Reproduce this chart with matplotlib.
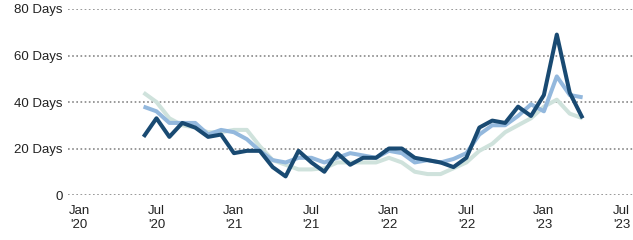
import matplotlib
matplotlib.use("Agg")
import matplotlib.pyplot as plt

plt.rcParams['font.family'] = ['Liberation Sans', 'DejaVu Sans']

# months since Jan 2020 (Jun 2020 .. Apr 2023)
months = list(range(5, 40))
dark = [25, 33, 25, 31, 29, 25, 26, 18, 19, 19, 12, 8, 19, 14,
        10, 18, 13, 16, 16, 20, 20, 16, 15, 14, 12, 16, 29, 32, 31, 38, 34, 43, 69, 44, 33]
medium = [38, 36, 31, 31, 31, 26, 28, 27, 24, 19, 15, 14, 16, 16,
          14, 16, 18, 17, 16, 19, 18, 14, 15, 14, 15.5, 18, 26, 30, 30, 34, 39, 36, 51, 43, 42]
pale = [44, 40, 33, 30, 29, 27, 27, 28, 28, 21, 15, 13, 11, 11,
        11.5, 14, 14, 14, 14, 16, 14, 10, 9, 9, 11.5, 14, 19, 22, 27, 30, 33, 38, 41, 35, 33]

xticks = [0, 6, 12, 18, 24, 30, 36, 42]
xlabels = ["Jan\n'20", "Jul\n'20", "Jan\n'21", "Jul\n'21", "Jan\n'22", "Jul\n'22", "Jan\n'23", "Jul\n'23"]
yticks = [0, 20, 40, 60, 80]
ylabels = ["0", "20 Days", "40 Days", "60 Days", "80 Days"]

fig = plt.figure(figsize=(6.33, 2.4), dpi=100)
ax = fig.add_axes([68/633, 1-195/240, 1-68/633, (195-9)/240])

ax.plot(months, pale, color='#cfe2dc', lw=2.9, solid_capstyle='butt', zorder=3)
ax.plot(months, medium, color='#93b8dd', lw=2.9, solid_capstyle='butt', zorder=4)
ax.plot(months, dark, color='#194a72', lw=2.9, solid_capstyle='butt', zorder=5)

ax.set_xlim(-0.85, 42.9)
ax.set_ylim(0, 80)
ax.set_yticks(yticks)
ax.set_yticklabels(ylabels)
ax.set_xticks(xticks)
ax.set_xticklabels(xlabels)
ax.tick_params(axis='both', length=0, labelsize=9.5, colors='#222222')
ax.tick_params(axis='y', pad=4)
ax.tick_params(axis='x', pad=7)
for lab in ax.get_xticklabels():
    lab.set_linespacing(1.3)
ax.grid(axis='y', color='#888888', linestyle=(0, (1, 1.5)), linewidth=1.2, zorder=0)
for s in ax.spines.values():
    s.set_visible(False)
ax.set_axisbelow(True)

fig.savefig('out.png', dpi=100)
